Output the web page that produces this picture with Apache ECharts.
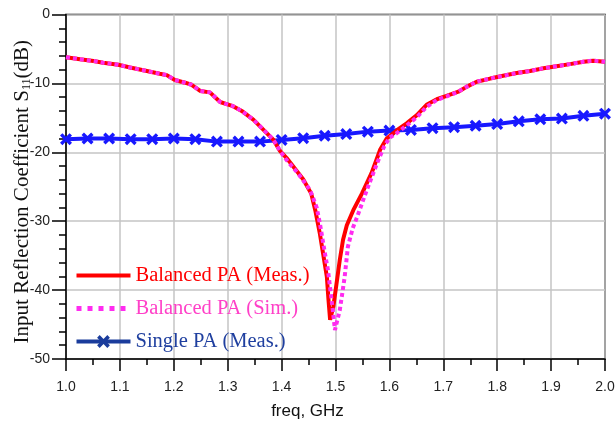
<!DOCTYPE html>
<html>
<head>
<meta charset="utf-8">
<script src="https://cdn.jsdelivr.net/npm/echarts@6/dist/echarts.min.js"></script>
<style>
  html, body { margin: 0; padding: 0; background: #fff; }
  #chart { width: 616px; height: 430px; }
</style>
</head>
<body>
<div id="chart"></div>
<script>
// values (freq in GHz, S11 in dB)
var measFreq = [1.000, 1.026, 1.051, 1.069, 1.097, 1.119, 1.150, 1.174, 1.187, 1.202, 1.221, 1.233, 1.249, 1.267,
    1.286, 1.298, 1.310, 1.326, 1.348, 1.366, 1.385, 1.397, 1.409, 1.422, 1.440, 1.455, 1.463, 1.471, 1.477, 1.484,
    1.487, 1.490, 1.496, 1.502, 1.508, 1.514, 1.521, 1.533, 1.549, 1.567, 1.583, 1.595, 1.614, 1.632, 1.651, 1.669,
    1.688, 1.706, 1.728, 1.743, 1.762, 1.787, 1.811, 1.836, 1.861, 1.886, 1.910, 1.935, 1.960, 1.978, 2.000];
var measS11 = [-6.2, -6.5, -6.75, -7.0, -7.3, -7.7, -8.2, -8.6, -8.8, -9.5, -9.9, -10.2, -11.1, -11.3,
    -12.7, -13.0, -13.3, -14.0, -15.3, -16.7, -18.2, -19.8, -20.8, -22.1, -23.9, -26.0, -28.6, -31.8, -34.7, -38.1,
    -41.4, -44.3, -42.4, -39.0, -35.6, -32.7, -30.6, -28.4, -26.0, -23.0, -19.6, -18.0, -16.8, -15.8, -14.6, -13.1,
    -12.3, -11.8, -11.2, -10.5, -9.75, -9.3, -8.9, -8.5, -8.2, -7.8, -7.5, -7.2, -6.85, -6.7, -6.85];

var simFreq = [1.000, 1.026, 1.051, 1.069, 1.097, 1.119, 1.150, 1.174, 1.187, 1.202, 1.221, 1.233, 1.249, 1.267,
    1.286, 1.298, 1.310, 1.326, 1.348, 1.366, 1.385, 1.397, 1.409, 1.430, 1.453, 1.465, 1.471, 1.480, 1.486, 1.495,
    1.499, 1.503, 1.508, 1.517, 1.523, 1.532, 1.540, 1.558, 1.577, 1.590, 1.600, 1.614, 1.632, 1.651, 1.669,
    1.688, 1.706, 1.728, 1.743, 1.762, 1.787, 1.811, 1.836, 1.861, 1.886, 1.910, 1.935, 1.960, 1.978, 2.000];
var simS11 = [-6.2, -6.5, -6.75, -7.0, -7.3, -7.7, -8.2, -8.6, -8.8, -9.5, -9.9, -10.2, -11.1, -11.3,
    -12.7, -13.0, -13.3, -14.0, -15.3, -16.7, -18.2, -19.8, -21.1, -23.0, -25.5, -28.0, -30.3, -34.5, -37.1, -42.9,
    -45.8, -44.5, -42.9, -38.1, -33.7, -31.0, -29.4, -25.5, -21.6, -19.2, -17.9, -17.2, -16.1, -14.9, -13.4,
    -12.4, -11.9, -11.2, -10.5, -9.75, -9.3, -8.9, -8.5, -8.2, -7.8, -7.5, -7.2, -6.85, -6.7, -6.85];

var singleFreq = [1.00, 1.04, 1.08, 1.12, 1.16, 1.20, 1.24, 1.28, 1.32, 1.36, 1.40, 1.44, 1.48,
    1.52, 1.56, 1.60, 1.64, 1.68, 1.72, 1.76, 1.80, 1.84, 1.88, 1.92, 1.96, 2.00];
var singleS11 = [-18.1, -18.0, -18.0, -18.1, -18.1, -18.0, -18.1, -18.45, -18.45, -18.45, -18.2, -17.95, -17.6,
    -17.35, -17.0, -16.85, -16.75, -16.5, -16.35, -16.15, -15.9, -15.5, -15.2, -15.1, -14.7, -14.4];

var seriesNames = ['Balanced PA (Meas.)', 'Balanced PA (Sim.)', 'Single PA (Meas.)'];

function pairs(xs, ys) {
    return xs.map(function (x, i) { return [x, ys[i]]; });
}

var crossMark = 'path://M2,0 L5,3 L8,0 L10,2 L7,5 L10,8 L8,10 L5,7 L2,10 L0,8 L3,5 L0,2 Z';
var serif = 'Liberation Serif';
var sans = 'Liberation Sans';

var chart = echarts.init(document.getElementById('chart'));
chart.setOption({
    animation: false,
    grid: {
        left: 66, right: 11, top: 14.5, bottom: 71,
        show: true, borderColor: '#000', borderWidth: 1.5,
        outerBoundsMode: 'none'
    },
    legend: {
        orient: 'vertical',
        left: 74, top: 265,
        padding: 0,
        itemWidth: 54, itemHeight: 16, itemGap: 12,
        textStyle: { fontFamily: serif, fontSize: 20.5 },
        data: [
            {
                name: seriesNames[0], textStyle: { color: '#ff0000' },
                itemStyle: { opacity: 0 }, lineStyle: { color: '#ff0000', width: 4 }
            },
            {
                name: seriesNames[1], textStyle: { color: '#ff40c8' },
                itemStyle: { opacity: 0 }, lineStyle: { color: '#ff2cf0', width: 5, type: [5, 6] }
            },
            {
                name: seriesNames[2], textStyle: { color: '#1f3f9f' },
                itemStyle: { color: '#1a3c9c' }, lineStyle: { color: '#1a3c9c', width: 4 }
            }
        ]
    },
    xAxis: {
        type: 'value', min: 1, max: 2, interval: 0.1,
        name: 'freq, GHz', nameLocation: 'middle', nameGap: 44, nameMoveOverlap: false,
        nameTextStyle: { fontFamily: sans, fontSize: 17, color: '#111', padding: [0, 56, 0, 0] },
        axisLine: { onZero: false, lineStyle: { color: '#000', width: 1.5 } },
        axisTick: { length: 12, lineStyle: { color: '#000', width: 1.5 } },
        minorTick: { show: true, splitNumber: 2, length: 6, lineStyle: { color: '#000', width: 1.5 } },
        axisLabel: {
            fontFamily: sans, fontSize: 14, color: '#222', margin: 21,
            formatter: function (v) { return v.toFixed(1); }
        },
        splitLine: { lineStyle: { color: '#c4c4c4', width: 1.5 } }
    },
    yAxis: {
        type: 'value', min: -50, max: 0, interval: 10,
        name: 'Input Reflection Coefficient S{sub|11}(dB)', nameLocation: 'middle', nameGap: 33,
        nameMoveOverlap: false,
        nameTextStyle: {
            fontFamily: serif, fontSize: 21, color: '#111', padding: [0, 10, 0, 0],
            rich: { sub: { fontFamily: serif, fontSize: 12, color: '#111', verticalAlign: 'bottom' } }
        },
        axisLine: { lineStyle: { color: '#000', width: 1.5 } },
        axisTick: { length: 14, lineStyle: { color: '#000', width: 1.5 } },
        minorTick: { show: true, splitNumber: 5, length: 7, lineStyle: { color: '#000', width: 1.5 } },
        axisLabel: { fontFamily: sans, fontSize: 14, color: '#222', margin: 16 },
        splitLine: { lineStyle: { color: '#c4c4c4', width: 1.5 } }
    },
    series: [
        {
            name: seriesNames[2], type: 'line', data: pairs(singleFreq, singleS11), z: 2,
            symbol: crossMark, symbolSize: 12, showAllSymbol: true,
            itemStyle: { color: '#1818ff' },
            lineStyle: { color: '#1818ff', width: 4 }
        },
        {
            name: seriesNames[0], type: 'line', data: pairs(measFreq, measS11), z: 3,
            symbol: 'none',
            lineStyle: { color: '#ff0000', width: 4 }
        },
        {
            name: seriesNames[1], type: 'line', data: pairs(simFreq, simS11), z: 4,
            symbol: 'none',
            itemStyle: { color: '#ff2cf0' },
            lineStyle: { color: '#ff2cf0', width: 4, type: [4, 3], cap: 'butt' }
        }
    ]
});
</script>
</body>
</html>
